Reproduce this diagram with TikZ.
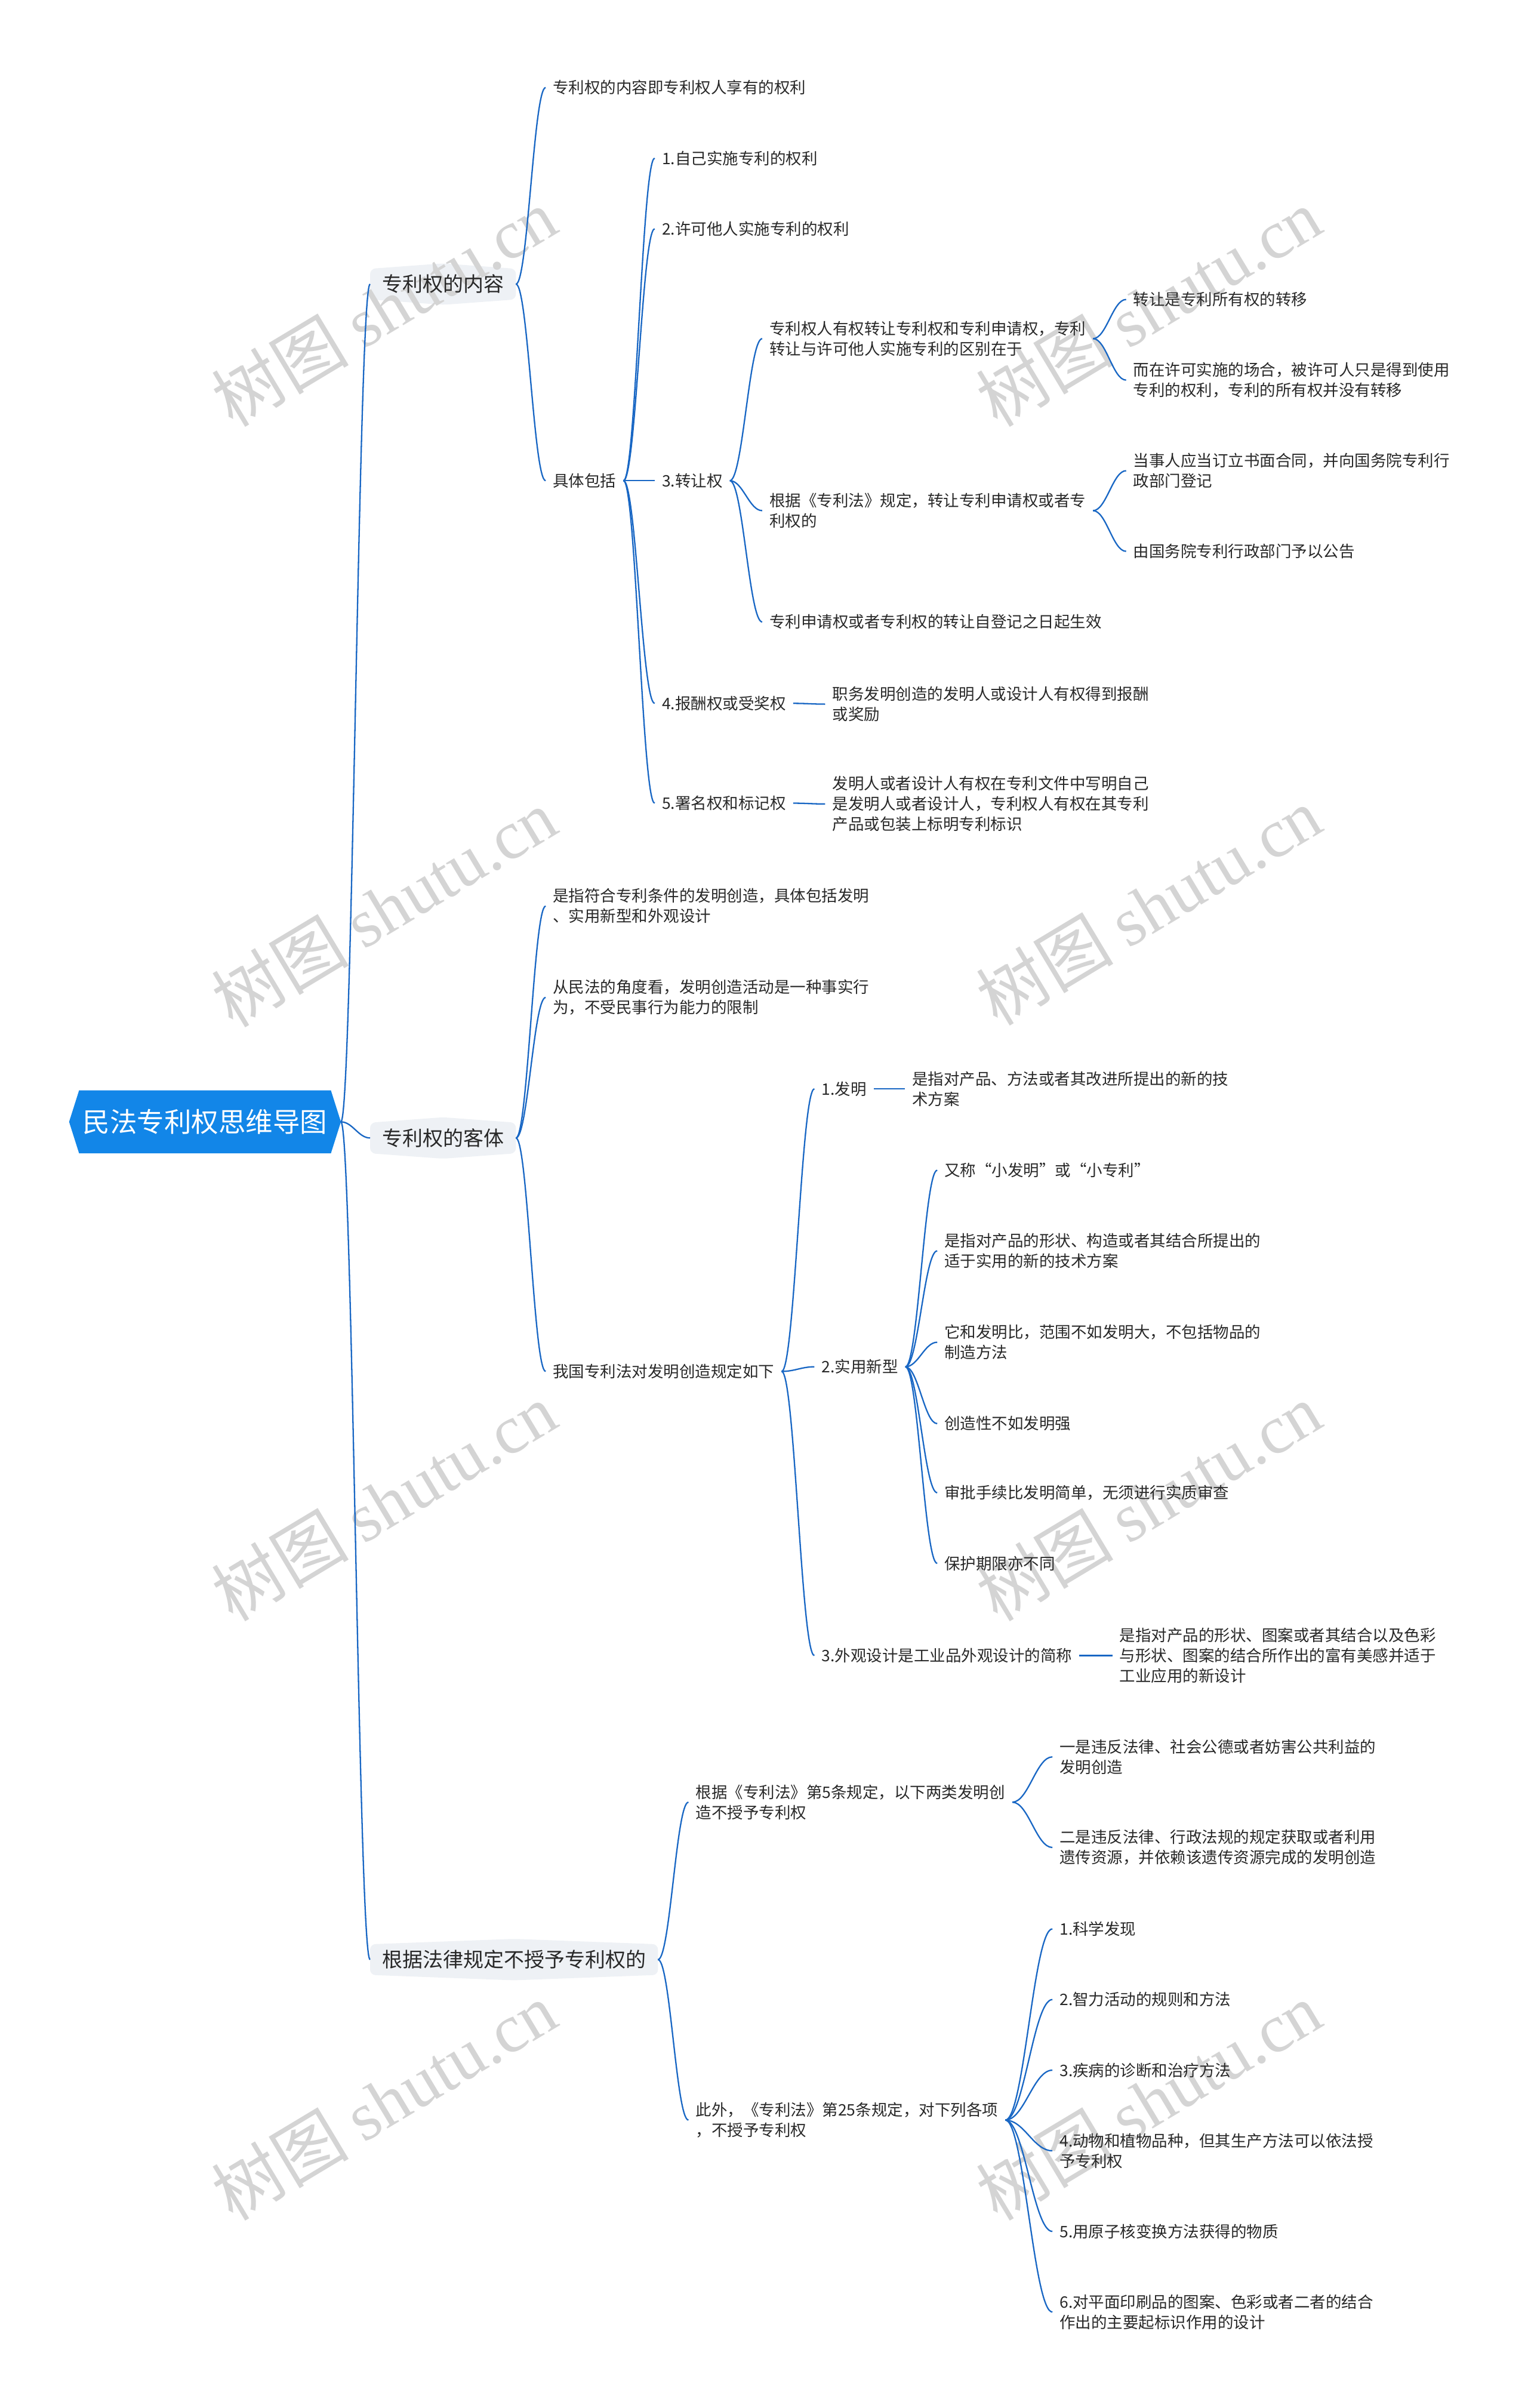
\documentclass[tikz,border=0pt]{standalone}
\usepackage{fontspec}
\setmainfont{Noto Sans CJK SC}
\newfontfamily\wmlatin{Liberation Serif}
\usetikzlibrary{calc,backgrounds}

\definecolor{lineblue}{RGB}{25,103,196}
\definecolor{rootblue}{RGB}{18,134,232}
\definecolor{lonefill}{RGB}{238,241,245}
\definecolor{txt}{RGB}{40,40,40}
\definecolor{wm}{RGB}{212,212,212}

\tikzset{
  conn/.style={draw=lineblue, line width=2.3pt},
  leaf/.style={anchor=west, xshift=-12pt, inner xsep=12pt, inner ysep=3pt, align=left, text=txt, font=\fontsize{26.5}{34}\selectfont},
  lone/.style={anchor=west, inner xsep=20pt, inner ysep=0pt, minimum height=69pt, text=txt, font=\fontsize{34}{40}\selectfont},
  rootnode/.style={minimum width=455pt, minimum height=105pt, inner sep=0pt, text=white, font=\fontsize{45.5}{50}\selectfont},
  wmark/.style={text=wm, rotate=31, font=\fontsize{115}{120}\selectfont, inner sep=0pt}
}

\newcommand{\mmlink}[2]{\draw[conn] let \p1=(#1.east), \p2=(#2.west), \n1={0.4*(\x2-\x1)} in (\p1) .. controls +(\n1,0) and +(-\n1,0) .. (\p2);}
\newcommand{\lonebg}[1]{\fill[lonefill, rounded corners=9pt] ($(#1.north west)+(0,3.5)$) -- (#1.north) -- ($(#1.north east)+(0,3.5)$) -- ($(#1.south east)+(0,-3.5)$) -- (#1.south) -- ($(#1.south west)+(0,-3.5)$) -- cycle;}

\begin{document}
\begin{tikzpicture}[x=2.5729pt, y=-2.5729pt]
\useasboundingbox (0,0) rectangle (995,1568);

% watermarks
\node[wmark] (w1) at (250,200) {树图 {\wmlatin shutu.cn}};
\node[wmark] (w2) at (748,200) {树图 {\wmlatin shutu.cn}};
\node[wmark] (w3) at (250,591) {树图 {\wmlatin shutu.cn}};
\node[wmark] (w4) at (748,590) {树图 {\wmlatin shutu.cn}};
\node[wmark] (w5) at (250,978) {树图 {\wmlatin shutu.cn}};
\node[wmark] (w6) at (748,978) {树图 {\wmlatin shutu.cn}};
\node[wmark] (w7) at (250,1368) {树图 {\wmlatin shutu.cn}};
\node[wmark] (w8) at (748,1368) {树图 {\wmlatin shutu.cn}};

% root
\fill[rootblue] (45,730.5) -- (51.5,710) -- (215.5,710) -- (222,730.5) -- (215.5,751) -- (51.5,751) -- cycle;
\node[rootnode] (root) at (133.5,730.5) {民法专利权思维导图};

% branch A
\node[lone] (A) at (241,185) {专利权的内容};
\node[leaf] (A1) at (360,57) {专利权的内容即专利权人享有的权利};
\node[leaf] (A2) at (360,313) {具体包括};
\node[leaf] (A21) at (431,103) {1.自己实施专利的权利};
\node[leaf] (A22) at (431,149) {2.许可他人实施专利的权利};
\node[leaf] (A23) at (431,313) {3.转让权};
\node[leaf] (A231) at (501,220.5) {专利权人有权转让专利权和专利申请权，专利\\转让与许可他人实施专利的区别在于};
\node[leaf] (A2311) at (738,195) {转让是专利所有权的转移};
\node[leaf] (A2312) at (738,247.5) {而在许可实施的场合，被许可人只是得到使用\\专利的权利，专利的所有权并没有转移};
\node[leaf] (A232) at (501,332.5) {根据《专利法》规定，转让专利申请权或者专\\利权的};
\node[leaf] (A2321) at (738,306.5) {当事人应当订立书面合同，并向国务院专利行\\政部门登记};
\node[leaf] (A2322) at (738,359) {由国务院专利行政部门予以公告};
\node[leaf] (A233) at (501,405) {专利申请权或者专利权的转让自登记之日起生效};
\node[leaf] (A24) at (431,458) {4.报酬权或受奖权};
\node[leaf] (A241) at (542,458.5) {职务发明创造的发明人或设计人有权得到报酬\\或奖励};
\node[leaf] (A25) at (431,523) {5.署名权和标记权};
\node[leaf] (A251) at (542,523.5) {发明人或者设计人有权在专利文件中写明自己\\是发明人或者设计人，专利权人有权在其专利\\产品或包装上标明专利标识};

% branch B
\node[lone] (B) at (241,741) {专利权的客体};
\node[leaf] (B1) at (360,590) {是指符合专利条件的发明创造，具体包括发明\\、实用新型和外观设计};
\node[leaf] (B2) at (360,649.5) {从民法的角度看，发明创造活动是一种事实行\\为，不受民事行为能力的限制};
\node[leaf] (B3) at (360,893) {我国专利法对发明创造规定如下};
\node[leaf] (B31) at (535,709) {1.发明};
\node[leaf] (B311) at (594,709) {是指对产品、方法或者其改进所提出的新的技\\术方案};
\node[leaf] (B32) at (535,890) {2.实用新型};
\node[leaf] (B321) at (615,762) {又称“小发明”或“小专利”};
\node[leaf] (B322) at (615,814.5) {是指对产品的形状、构造或者其结合所提出的\\适于实用的新的技术方案};
\node[leaf] (B323) at (615,874) {它和发明比，范围不如发明大，不包括物品的\\制造方法};
\node[leaf] (B324) at (615,927) {创造性不如发明强};
\node[leaf] (B325) at (615,972) {审批手续比发明简单，无须进行实质审查};
\node[leaf] (B326) at (615,1018) {保护期限亦不同};
\node[leaf] (B33) at (535,1078) {3.外观设计是工业品外观设计的简称};
\node[leaf] (B331) at (729,1078) {是指对产品的形状、图案或者其结合以及色彩\\与形状、图案的结合所作出的富有美感并适于\\工业应用的新设计};

% branch C
\node[lone] (C) at (241,1276) {根据法律规定不授予专利权的};
\node[leaf] (C1) at (453,1173.5) {根据《专利法》第5条规定，以下两类发明创\\造不授予专利权};
\node[leaf] (C11) at (690,1144) {一是违反法律、社会公德或者妨害公共利益的\\发明创造};
\node[leaf] (C12) at (690,1203) {二是违反法律、行政法规的规定获取或者利用\\遗传资源，并依赖该遗传资源完成的发明创造};
\node[leaf] (C2) at (453,1380.5) {此外，《专利法》第25条规定，对下列各项\\，不授予专利权};
\node[leaf] (C21) at (690,1256) {1.科学发现};
\node[leaf] (C22) at (690,1302) {2.智力活动的规则和方法};
\node[leaf] (C23) at (690,1348) {3.疾病的诊断和治疗方法};
\node[leaf] (C24) at (690,1400.5) {4.动物和植物品种，但其生产方法可以依法授\\予专利权};
\node[leaf] (C25) at (690,1453) {5.用原子核变换方法获得的物质};
\node[leaf] (C26) at (690,1505.5) {6.对平面印刷品的图案、色彩或者二者的结合\\作出的主要起标识作用的设计};

\begin{pgfonlayer}{background}
\lonebg{A}
\lonebg{B}
\lonebg{C}
\end{pgfonlayer}

% connectors
\mmlink{root}{A}
\mmlink{root}{B}
\mmlink{root}{C}

\mmlink{A}{A1}
\mmlink{A}{A2}
\mmlink{A2}{A21}
\mmlink{A2}{A22}
\mmlink{A2}{A23}
\mmlink{A2}{A24}
\mmlink{A2}{A25}
\mmlink{A23}{A231}
\mmlink{A23}{A232}
\mmlink{A23}{A233}
\mmlink{A231}{A2311}
\mmlink{A231}{A2312}
\mmlink{A232}{A2321}
\mmlink{A232}{A2322}
\mmlink{A24}{A241}
\mmlink{A25}{A251}

\mmlink{B}{B1}
\mmlink{B}{B2}
\mmlink{B}{B3}
\mmlink{B3}{B31}
\mmlink{B3}{B32}
\mmlink{B3}{B33}
\mmlink{B31}{B311}
\mmlink{B32}{B321}
\mmlink{B32}{B322}
\mmlink{B32}{B323}
\mmlink{B32}{B324}
\mmlink{B32}{B325}
\mmlink{B32}{B326}
\mmlink{B33}{B331}

\mmlink{C}{C1}
\mmlink{C}{C2}
\mmlink{C1}{C11}
\mmlink{C1}{C12}
\mmlink{C2}{C21}
\mmlink{C2}{C22}
\mmlink{C2}{C23}
\mmlink{C2}{C24}
\mmlink{C2}{C25}
\mmlink{C2}{C26}
\end{tikzpicture}
\end{document}
